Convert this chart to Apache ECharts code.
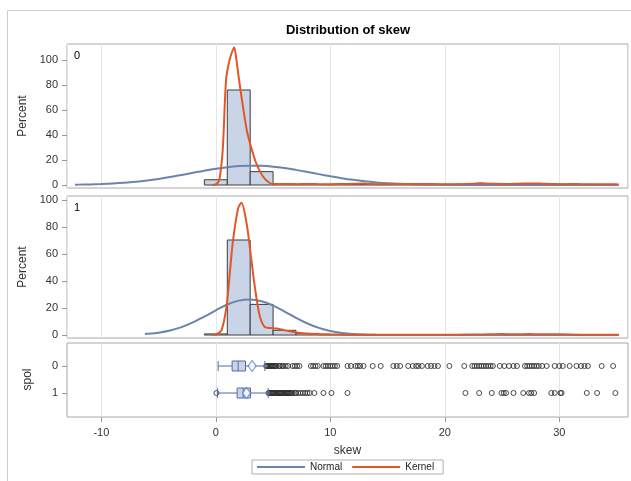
<!DOCTYPE html>
<html><head><meta charset="utf-8">
<script src="https://cdn.jsdelivr.net/npm/echarts@6/dist/echarts.min.js"></script>
<style>html,body{margin:0;padding:0;background:#fff}#c{width:631px;height:481px}</style>
</head><body><div id="c"></div>
<script>
// ---- data ----
const titleText = 'Distribution of skew';
const panelNames = ['0', '1'];
const spolCats = ['0', '1'];
const binWidth = 2;
const binCenters = [0, 2, 4, 6, 8, 10, 12, 14, 16, 18, 20, 22, 24, 26, 28, 30, 32, 34];
const hist0 = [4.2, 76, 10.7, 0.8, 0.5, 0.5, 0.6, 0.6, 0.5, 0.4, 0.5, 0.8, 0.9, 1.0, 0.7, 0.6, 0.5, 0.3];
const hist1 = [0.8, 70.4, 22.7, 3.5, 1.2, 0.3, 0.2, 0.1, 0, 0, 0.1, 0.2, 0.3, 0.2, 0.2, 0.1, 0.1, 0.1];
const normal0 = [[-12.3,0.25],[-12,0.30],[-11,0.49],[-10,0.78],[-9,1.21],[-8,1.80],[-7,2.60],[-6,3.63],[-5,4.89],[-4,6.37],[-3,8.02],[-2,9.75],[-1,11.46],[0,13.0],[1,14.26],[2,15.12],[3,15.49],[4,15.33],[5,14.66],[6,13.55],[7,12.1],[8,10.44],[9,8.7],[10,7.01],[11,5.46],[12,4.11],[13,2.99],[14,2.1],[15,1.42],[16,0.93],[17,0.59],[18,0.36],[19,0.21],[20,0.12],[22,0.04],[24,0.01],[27,0],[31,0],[35.2,0]];
const kernel0 = [[-0.3,0],[0,0.5],[0.3,4],[0.6,28],[0.9,85],[1.2,100],[1.4,106],[1.6,110],[1.8,100],[2.0,86],[2.25,70],[2.7,44],[3.0,33],[3.5,18],[4.1,7],[4.7,1.6],[5.2,0.8],[6,0.9],[7,0.7],[8,0.8],[9,0.7],[10,0.6],[11,0.8],[12,1.0],[12.8,1.2],[13.5,0.8],[14.5,0.6],[15.5,0.7],[16.5,0.8],[17.5,0.9],[18.5,0.8],[19.5,0.7],[20.5,0.6],[21.5,0.7],[22.5,1.1],[23,1.5],[23.5,1.2],[24.5,1.0],[25.5,0.9],[26.5,1.0],[27.5,1.3],[28.5,1.1],[29.5,0.8],[30.5,0.7],[31.5,0.8],[32.5,0.6],[33.5,0.7],[34.5,0.6],[35.2,0.5]];
const normal1 = [[-6.2,0.73],[-6,0.86],[-5,1.77],[-4,3.36],[-3,5.85],[-2,9.34],[-1,13.7],[0,18.3],[1,22.6],[2,25.5],[3,26.4],[4,25.05],[5,21.8],[6,17.4],[7,12.75],[8,8.57],[9,5.27],[10,2.98],[11,1.54],[12,0.73],[13,0.32],[14,0.13],[15,0.05],[16,0.02],[18,0],[25,0],[35.2,0]];
const kernel1 = [[-0.3,0],[0,0.4],[0.5,3.7],[0.93,21],[1.22,46],[1.5,70],[1.95,94],[2.24,98],[2.68,83],[2.97,65],[3.4,36],[3.84,14],[4.28,6],[4.8,5.2],[5.3,4.8],[5.9,3.7],[6.4,2.8],[7.0,1.9],[7.8,1.2],[8.8,0.8],[10,0.5],[12,0.3],[15,0.2],[18,0.2],[21,0.3],[23,0.4],[25,0.8],[26,0.5],[27.4,0.7],[28.5,0.5],[30,0.5],[32,0.3],[34,0.3],[35.2,0.2]];
// boxplot: [min, Q1, median, Q3, max]
const boxStats = [[0.2, 1.42, 1.95, 2.59, 4.28], [0.15, 1.86, 2.39, 3.03, 4.57]];
const boxMeans = [3.17, 2.68];
const outliers0 = [4.4,4.5,4.6,4.7,4.8,4.9,5.0,5.1,5.2,5.3,5.5,5.6,5.8,5.9,6.1,6.3,6.7,6.9,7.1,7.3,8.3,8.5,8.7,8.9,9.4,9.6,9.8,10.0,10.2,10.4,10.6,11.5,11.8,12.2,12.4,12.6,12.9,13.7,14.4,15.5,15.8,16.1,16.8,17.2,17.5,17.7,18.0,18.5,18.8,19.1,19.4,20.4,21.7,22.4,22.6,22.8,23.0,23.2,23.4,23.6,23.8,24.0,24.2,24.8,25.2,25.6,26.0,26.3,27.0,27.2,27.4,27.6,27.8,28.0,28.2,28.5,28.9,29.6,30.0,30.3,30.9,31.5,31.9,32.2,32.5,33.7,34.7];
const outliers1 = [0.05,4.6,4.7,4.8,4.9,5.0,5.1,5.2,5.3,5.4,5.5,5.6,5.7,5.8,5.9,6.0,6.1,6.2,6.3,6.4,6.5,6.6,6.7,6.9,7.0,7.2,7.4,7.6,7.8,8.0,8.2,8.6,9.4,10.1,11.5,21.8,23.0,24.1,24.95,25.15,25.35,26.0,26.85,27.35,27.55,27.8,29.3,29.6,30.1,30.2,32.4,33.3,34.9];
const xTicks = [-10, 0, 10, 20, 30];
const yTicks = [0, 20, 40, 60, 80, 100];
const legendNames = ['Normal', 'Kernel'];

// ---- chart ----
const FONT = 'Liberation Sans, Arial, sans-serif';
const C_NORMAL = '#6a85ad', C_KERNEL = '#e2572a', C_FILL = '#c9d5e6', C_EDGE = '#3c3c3c';
const chart = echarts.init(document.getElementById('c'), null, {renderer: 'canvas'});

function histRender(params, api) {
  const c = api.value(0), v = api.value(1);
  const p0 = api.coord([c - binWidth / 2, v]);
  const p1 = api.coord([c + binWidth / 2, 0]);
  return {type: 'rect', shape: {x: p0[0], y: p0[1], width: p1[0] - p0[0], height: p1[1] - p0[1]},
          style: {fill: C_FILL, stroke: C_EDGE, lineWidth: 1}};
}
const xBase = (gi, extra) => Object.assign({
  type: 'value', gridIndex: gi, min: -13, max: 36, minInterval: 10, maxInterval: 10, position: 'bottom',
  splitLine: {show: true, lineStyle: {color: '#e6e6e6', width: 1}},
  axisLine: {show: false, onZero: false}, axisTick: {show: false}, axisLabel: {show: false}
}, extra || {});
const yHist = (gi, min, max) => ({
  type: 'value', gridIndex: gi, min: min, max: max, minInterval: 20, maxInterval: 20, position: 'left',
  name: 'Percent', nameLocation: 'middle', nameGap: 33,
  nameTextStyle: {fontSize: 12, color: '#333', fontFamily: FONT},
  axisLine: {show: false, onZero: false}, splitLine: {show: false},
  axisTick: {show: true, length: 5, lineStyle: {color: '#999'}, customValues: yTicks},
  axisLabel: {customValues: yTicks, fontSize: 11, color: '#333', fontFamily: FONT, margin: 9}
});
const gridBox = {show: true, borderColor: '#a8a8a8', borderWidth: 1, backgroundColor: 'transparent'};

chart.setOption({
  animation: false,
  textStyle: {fontFamily: FONT},
  graphic: [
    {type: 'rect', silent: true, z: -10, shape: {x: 7.5, y: 10.5, width: 640, height: 480}, style: {fill: 'none', stroke: '#cccccc', lineWidth: 1}},
    {type: 'text', x: 348, y: 24, style: {text: titleText, font: 'bold 13px ' + FONT, fill: '#000', textAlign: 'center'}},
    {type: 'text', x: 74, y: 50, style: {text: panelNames[0], font: '11px ' + FONT, fill: '#000'}},
    {type: 'text', x: 74, y: 202, style: {text: panelNames[1], font: '11px ' + FONT, fill: '#000'}}
  ],
  grid: [
    Object.assign({left: 67, top: 44, width: 561, height: 144}, gridBox),
    Object.assign({left: 67, top: 196, width: 561, height: 142}, gridBox),
    Object.assign({left: 67, top: 343, width: 561, height: 74}, gridBox),
    {left: 67, top: 352.5, width: 561, height: 54, show: false}
  ],
  xAxis: [
    xBase(0), xBase(1),
    xBase(2, {
      name: 'skew', nameLocation: 'middle', nameGap: 28,
      nameTextStyle: {fontSize: 12, color: '#333', fontFamily: FONT},
      axisTick: {show: true, length: 5, lineStyle: {color: '#999'}, customValues: xTicks},
      axisLabel: {show: true, customValues: xTicks, fontSize: 11, color: '#333', fontFamily: FONT, margin: 10}
    }),
    {type: 'value', gridIndex: 3, min: -13, max: 36, show: false}
  ],
  yAxis: [
    yHist(0, -2.4, 112.8),
    yHist(1, -2.2, 103),
    {type: 'value', gridIndex: 2, min: 0, max: 1, show: false},
    {type: 'category', gridIndex: 3, data: spolCats, inverse: true, position: 'left',
     name: 'spol', nameLocation: 'middle', nameGap: 33,
     nameTextStyle: {fontSize: 12, color: '#333', fontFamily: FONT},
     axisLine: {show: false, onZero: false},
     axisTick: {show: true, alignWithLabel: true, length: 5, lineStyle: {color: '#999'}},
     axisLabel: {fontSize: 11, color: '#333', fontFamily: FONT, margin: 9},
     splitLine: {show: false}}
  ],
  legend: {
    left: 252, top: 460, padding: [2, 9, 2, 5], itemGap: 10, itemWidth: 48, itemHeight: 2,
    borderColor: '#b0b0b0', borderWidth: 1,
    textStyle: {fontSize: 10, color: '#222', fontFamily: FONT},
    data: legendNames.map(n => ({name: n, icon: 'rect'}))
  },
  series: [
    {type: 'custom', xAxisIndex: 0, yAxisIndex: 0, renderItem: histRender, data: binCenters.map((c, i) => [c, hist0[i]]), z: 2},
    {type: 'line', name: legendNames[0], xAxisIndex: 0, yAxisIndex: 0, data: normal0, showSymbol: false, smooth: 0.4, lineStyle: {color: C_NORMAL, width: 2}, itemStyle: {color: C_NORMAL}, z: 3},
    {type: 'line', name: legendNames[1], xAxisIndex: 0, yAxisIndex: 0, data: kernel0, showSymbol: false, smooth: 0.3, lineStyle: {color: C_KERNEL, width: 2}, itemStyle: {color: C_KERNEL}, z: 4},
    {type: 'custom', xAxisIndex: 1, yAxisIndex: 1, renderItem: histRender, data: binCenters.map((c, i) => [c, hist1[i]]), z: 2},
    {type: 'line', name: legendNames[0], xAxisIndex: 1, yAxisIndex: 1, data: normal1, showSymbol: false, smooth: 0.4, lineStyle: {color: C_NORMAL, width: 2}, itemStyle: {color: C_NORMAL}, z: 3},
    {type: 'line', name: legendNames[1], xAxisIndex: 1, yAxisIndex: 1, data: kernel1, showSymbol: false, smooth: 0.3, lineStyle: {color: C_KERNEL, width: 2}, itemStyle: {color: C_KERNEL}, z: 4},
    {type: 'scatter', xAxisIndex: 3, yAxisIndex: 3, symbol: 'circle', symbolSize: 5,
     itemStyle: {color: 'transparent', borderColor: '#222', borderWidth: 1},
     data: outliers0.map(v => [v, 0]).concat(outliers1.map(v => [v, 1])), z: 2},
    {type: 'boxplot', xAxisIndex: 3, yAxisIndex: 3, boxWidth: [10, 10], data: boxStats,
     itemStyle: {color: C_FILL, borderColor: '#4f6db0', borderWidth: 1}, z: 3},
    {type: 'scatter', xAxisIndex: 3, yAxisIndex: 3, symbol: 'diamond', symbolSize: [8, 11],
     itemStyle: {color: '#ffffff', borderColor: '#4a6fc4', borderWidth: 1},
     data: boxMeans.map((m, i) => [m, i]), z: 4}
  ]
});
</script></body></html>
